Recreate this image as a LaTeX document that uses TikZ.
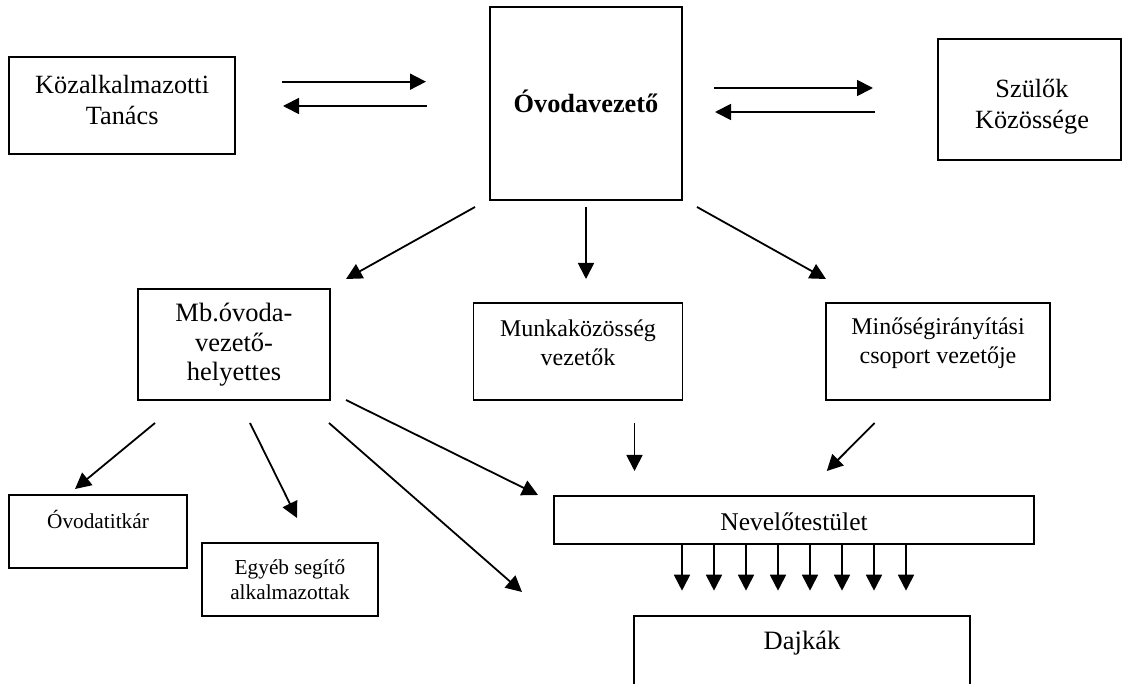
\documentclass[tikz,border=0pt]{standalone}
\usepackage{fontspec}
\setmainfont{Liberation Serif}
\usetikzlibrary{arrows.meta}
\tikzset{
  box/.style={draw, line width=1.7pt, inner sep=0pt},
  txt/.style={align=center, inner sep=0pt},
  big/.style={font=\fontsize{26.3}{31}\selectfont},
  mid/.style={font=\fontsize{24}{29}\selectfont},
  sml/.style={font=\fontsize{21.3}{25}\selectfont},
  arr/.style={line width=1.8pt, -{Triangle[length=16pt,width=16pt]}},
}
\begin{document}
\begin{tikzpicture}[x=1pt,y=-1pt]
\clip (0,0) rectangle (1125,684);
\fill[white] (0,0) rectangle (1125,684);
% boxes
\node[box, minimum width=225.7pt, minimum height=97pt] (kt) at (122.15,105.5) {};
\node[txt, big] (ktT) at (122.15,100.5) {Közalkalmazotti\\Tanács};
\node[box, minimum width=192pt, minimum height=193pt] (ov) at (586,103.5) {};
\node[txt, font=\fontsize{26.3}{31}\selectfont\bfseries] (ovT) at (586,101) {Óvodavezető};
\node[box, minimum width=183pt, minimum height=121pt] (sz) at (1029.5,99.5) {};
\node[txt, big] (szT) at (1032,106.5) {Szülők\\Közössége};
\node[box, minimum width=192pt, minimum height=111pt] (mb) at (234,344.5) {};
\node[txt, font=\fontsize{26.5}{29.5}\selectfont] (mbT) at (234,345) {Mb.óvoda-\\vezető-\\helyettes};
\node[box, minimum width=208.9pt, minimum height=97pt] (mk) at (578,351.5) {};
\node[txt, mid] (mkT) at (578,343) {Munkaközösség\\vezetők};
\node[box, minimum width=224pt, minimum height=97pt] (mi) at (938,351.5) {};
\node[txt, mid] (miT) at (938,343) {Minőségirányítási\\csoport vezetője};
\node[box, minimum width=178pt, minimum height=73pt] (ti) at (98,531.5) {};
\node[txt, sml] (tiT) at (98,519) {Óvodatitkár};
\node[box, minimum width=176pt, minimum height=73pt] (eg) at (290,579.5) {};
\node[txt, sml] (egT) at (290,579.5) {Egyéb segítő\\alkalmazottak};
\node[box, minimum width=480pt, minimum height=48pt] (nv) at (794,520) {};
\node[txt, font=\fontsize{25.5}{30}\selectfont] (nvT) at (794,522) {Nevelőtestület};
\node[box, minimum width=336pt, minimum height=104.3pt] (dj) at (802.3,667.85) {};
\node[txt, font=\fontsize{26.5}{31}\selectfont] (djT) at (802,643) {Dajkák};
% connector end points
\coordinate (a1s) at (282,81.7);   \coordinate (a1e) at (426,81.7);
\coordinate (a2s) at (427,106);    \coordinate (a2e) at (283,106);
\coordinate (a3s) at (714,88);     \coordinate (a3e) at (873,88);
\coordinate (a4s) at (875,112);    \coordinate (a4e) at (715,112);
\coordinate (a5s) at (475,207);    \coordinate (a5e) at (346,279);
\coordinate (a6s) at (586,207);    \coordinate (a6e) at (586,279);
\coordinate (a7s) at (697,207);    \coordinate (a7e) at (826,279);
\coordinate (a8s) at (155,423);    \coordinate (a8e) at (75,489);
\coordinate (a9s) at (250,423);    \coordinate (a9e) at (297,518);
\coordinate (a10s) at (329,423);   \coordinate (a10e) at (522,592);
\coordinate (a11s) at (346,400);   \coordinate (a11e) at (538,495);
\coordinate (a12s) at (634.5,423); \coordinate (a12e) at (634.5,471);
\coordinate (a13s) at (874.6,423); \coordinate (a13e) at (826.8,471);
\foreach \i in {a1,a2,a3,a4,a5,a6,a7,a8,a9,a10,a11,a12,a13}
  \draw[arr] (\i s) -- (\i e);
\foreach \k in {0,...,7}{
  \coordinate (n\k s) at (682+32*\k,544);
  \coordinate (n\k e) at (682+32*\k,590.7);
  \draw[arr] (n\k s) -- (n\k e);
}
\end{tikzpicture}
\end{document}
